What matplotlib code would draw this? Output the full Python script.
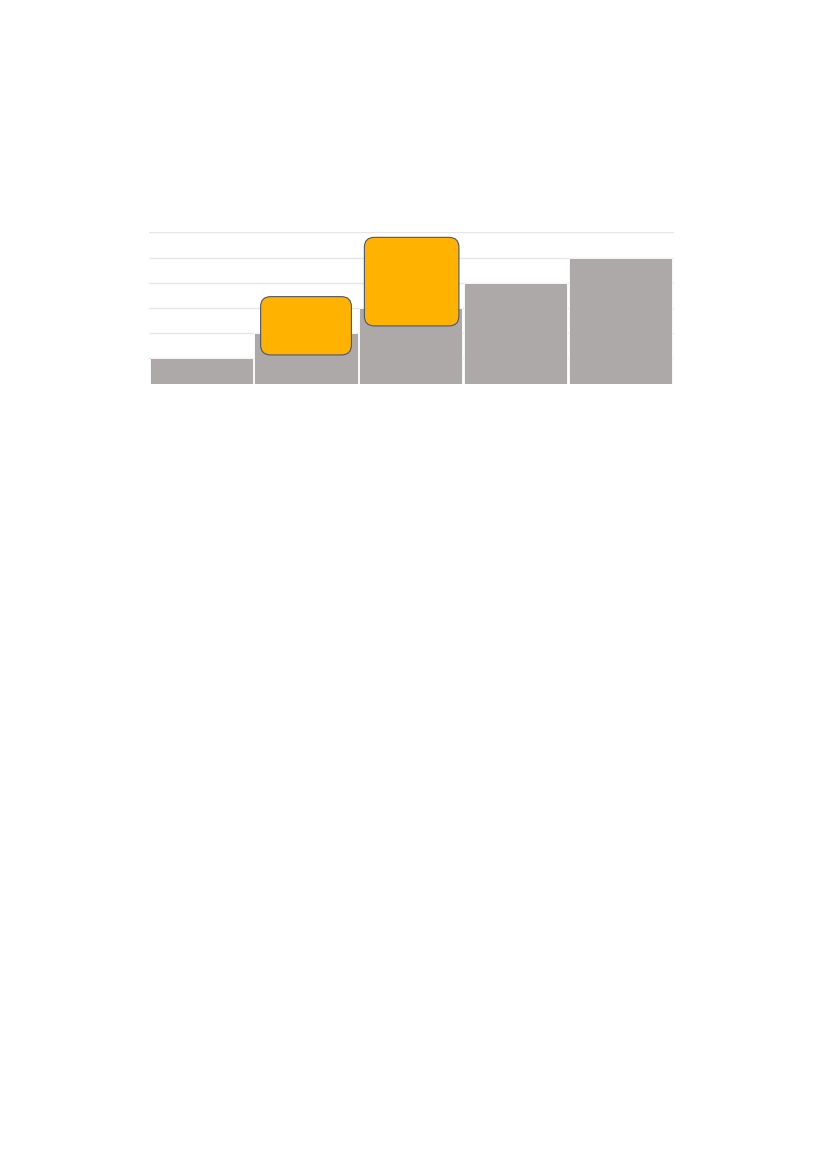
import matplotlib
matplotlib.use("Agg")
import matplotlib.pyplot as plt
from matplotlib.patches import FancyBboxPatch

categories = ["A", "B", "C", "D", "E"]
values = [1, 2, 3, 4, 5]
y_ticks = [0, 1, 2, 3, 4, 5, 6]

# callout boxes (x0, y0, x1, y1) in data units
callouts = [(0.566, 1.14, 1.433, 3.45), (1.557, 2.29, 2.460, 5.80)]

fig = plt.figure(figsize=(8.27, 11.69), dpi=100)
ax = fig.add_axes([149 / 827, 1 - 383.7 / 1169, 525 / 827, 151.4 / 1169])

x = list(range(len(categories)))
ax.bar(x, values, width=0.985, color="#ADA9A8", edgecolor="white", linewidth=0.6, zorder=2)
ax.set_xlim(-0.5, 4.5 + 0.014)
ax.set_ylim(0, 6)
for t in y_ticks:
    ax.axhline(t, color="#E6E6E6", linewidth=1.0, zorder=1)

px_x = 104.7
px_y = 151.4 / 6
r = 10 / px_x
for (x0, y0, x1, y1) in callouts:
    p = FancyBboxPatch((x0, y0), x1 - x0, y1 - y0,
                       boxstyle=f"round,pad=0,rounding_size={r}",
                       mutation_aspect=px_x / px_y,
                       facecolor="#FFB300", edgecolor="#4A5570", linewidth=0.8, zorder=3)
    ax.add_patch(p)

ax.set_xticks([])
ax.set_yticks([])
for s in ax.spines.values():
    s.set_visible(False)

fig.savefig("out.png", dpi=100)
